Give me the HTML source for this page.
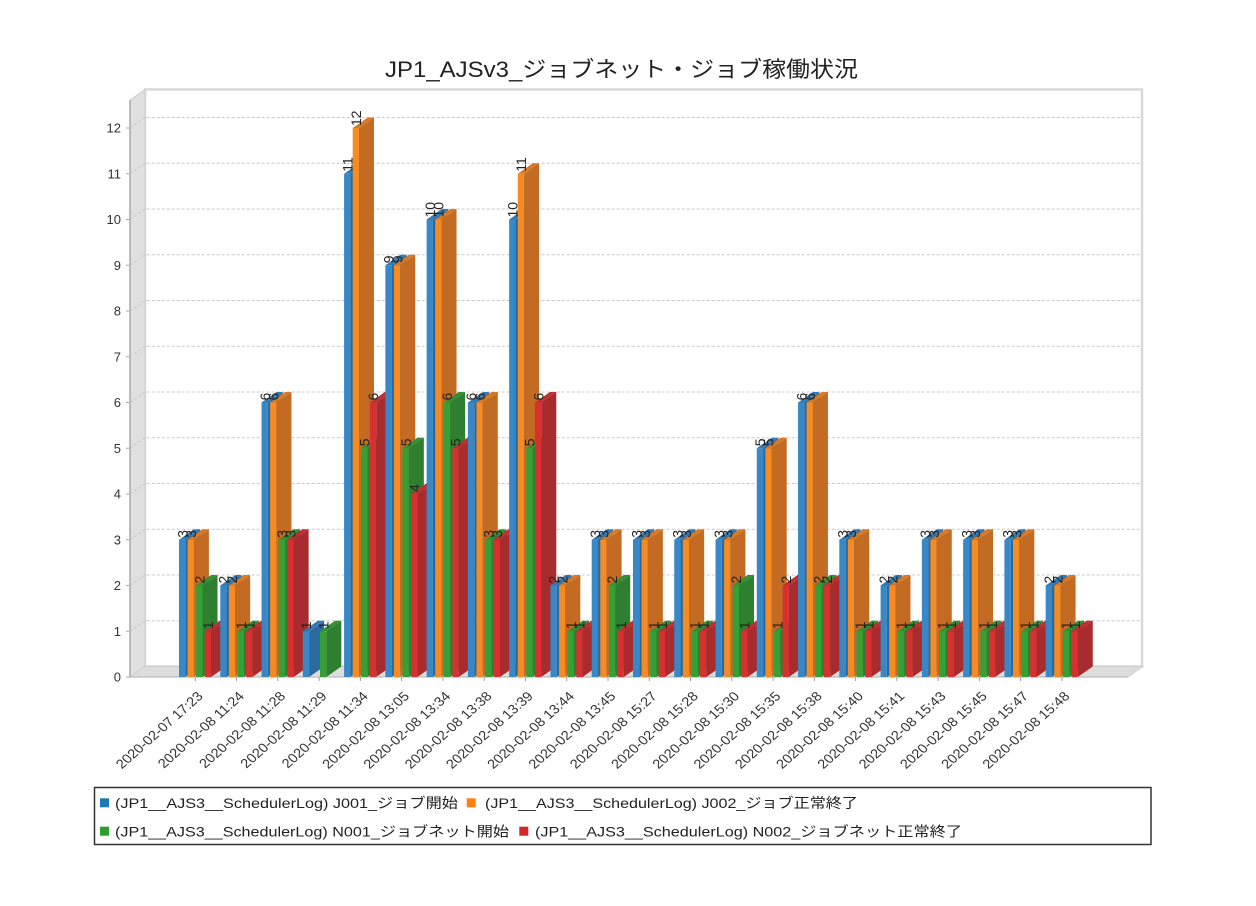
<!DOCTYPE html>
<html><head><meta charset="utf-8"><style>
html,body{margin:0;padding:0;background:#fff;}
svg{display:block;}
text{font-family:"Liberation Sans","Noto Sans CJK JP",sans-serif;}
.s0 .f{fill:#3887c6}.s0 .sd{fill:#2b6a9e}.s0 .tp{fill:#3379b3}
.s1 .f{fill:#f78b22}.s1 .sd{fill:#c36b22}.s1 .tp{fill:#d77a28}
.s2 .f{fill:#35a035}.s2 .sd{fill:#2e7f30}.s2 .tp{fill:#339035}
.s3 .f{fill:#d9302f}.s3 .sd{fill:#a82b2e}.s3 .tp{fill:#bf2e30}
.v{font-size:14px;fill:#222}
.xl{font-size:13px;fill:#333}
.yl{font-size:13px;fill:#333}
.g{stroke:#c8c8c8;stroke-width:1;stroke-dasharray:3 2;fill:none}
</style></head><body>
<svg width="1256" height="906" viewBox="0 0 1256 906" xmlns="http://www.w3.org/2000/svg">
<rect width="1256" height="906" fill="#fff"/>
<text x="385" y="77" font-size="22" fill="#222" textLength="473" lengthAdjust="spacingAndGlyphs">JP1_AJSv3_ジョブネット・ジョブ稼働状況</text>

<!-- walls -->
<rect x="145" y="89.5" width="997" height="577" fill="#fff" stroke="#d9d9d9" stroke-width="2.5"/>
<polygon points="130,100 145,89.5 145,666.5 130,677" fill="#e0e0e0" stroke="#cfcfcf" stroke-width="1"/>
<polygon points="130,677 145,666.5 1143,666.5 1128,677" fill="#dddddd" stroke="#cfcfcf" stroke-width="1"/>
<line x1="130" y1="100" x2="130" y2="677" stroke="#a8a8a8" stroke-width="1.5"/>
<line x1="130" y1="677" x2="1128" y2="677" stroke="#bdbdbd" stroke-width="1.2"/>

<!-- gridlines -->
<path class="g" d="M130 631.25L145 620.75H1141"/>
<path class="g" d="M130 585.5L145 575H1141"/>
<path class="g" d="M130 539.75L145 529.25H1141"/>
<path class="g" d="M130 494L145 483.5H1141"/>
<path class="g" d="M130 448.25L145 437.75H1141"/>
<path class="g" d="M130 402.5L145 392H1141"/>
<path class="g" d="M130 356.75L145 346.25H1141"/>
<path class="g" d="M130 311L145 300.5H1141"/>
<path class="g" d="M130 265.25L145 254.75H1141"/>
<path class="g" d="M130 219.5L145 209H1141"/>
<path class="g" d="M130 173.75L145 163.25H1141"/>
<path class="g" d="M130 128L145 117.5H1141"/>

<!-- y labels -->
<g class="yl" text-anchor="end">
<text x="121" y="681.5">0</text>
<text x="121" y="635.75">1</text>
<text x="121" y="590">2</text>
<text x="121" y="544.25">3</text>
<text x="121" y="498.5">4</text>
<text x="121" y="452.75">5</text>
<text x="121" y="407">6</text>
<text x="121" y="361.25">7</text>
<text x="121" y="315.5">8</text>
<text x="121" y="269.75">9</text>
<text x="121" y="224">10</text>
<text x="121" y="178.25">11</text>
<text x="121" y="132.5">12</text>
</g>
<g stroke="#aaa" stroke-width="1">
<path d="M126 677H130M126 631.25H130M126 585.5H130M126 539.75H130M126 494H130M126 448.25H130M126 402.5H130M126 356.75H130M126 311H130M126 265.25H130M126 219.5H130M126 173.75H130M126 128H130"/>
</g>

<!-- bars -->
<g transform="translate(179,0)">
<g class="s0" transform="translate(0,539.75)"><rect class="f" width="6.3" height="137.25"/><path class="sd" d="M6.3 137.25V0l15-10.5V126.75z"/><path class="tp" d="M0 0l15-10.5h6.3l-15 10.5z"/><text class="v" transform="translate(8.3,-2)rotate(-90)">3</text></g>
<g class="s1" transform="translate(8.6,539.75)"><rect class="f" width="6.3" height="137.25"/><path class="sd" d="M6.3 137.25V0l15-10.5V126.75z"/><path class="tp" d="M0 0l15-10.5h6.3l-15 10.5z"/><text class="v" transform="translate(8.3,-2)rotate(-90)">3</text></g>
<g class="s2" transform="translate(17.2,585.5)"><rect class="f" width="6.3" height="91.5"/><path class="sd" d="M6.3 91.5V0l15-10.5V81z"/><path class="tp" d="M0 0l15-10.5h6.3l-15 10.5z"/><text class="v" transform="translate(8.3,-2)rotate(-90)">2</text></g>
<g class="s3" transform="translate(25.8,631.25)"><rect class="f" width="6.3" height="45.75"/><path class="sd" d="M6.3 45.75V0l15-10.5V35.25z"/><path class="tp" d="M0 0l15-10.5h6.3l-15 10.5z"/><text class="v" transform="translate(8.3,-2)rotate(-90)">1</text></g>
</g>
<g transform="translate(220.27,0)">
<g class="s0" transform="translate(0,585.5)"><rect class="f" width="6.3" height="91.5"/><path class="sd" d="M6.3 91.5V0l15-10.5V81z"/><path class="tp" d="M0 0l15-10.5h6.3l-15 10.5z"/><text class="v" transform="translate(8.3,-2)rotate(-90)">2</text></g>
<g class="s1" transform="translate(8.6,585.5)"><rect class="f" width="6.3" height="91.5"/><path class="sd" d="M6.3 91.5V0l15-10.5V81z"/><path class="tp" d="M0 0l15-10.5h6.3l-15 10.5z"/><text class="v" transform="translate(8.3,-2)rotate(-90)">2</text></g>
<g class="s2" transform="translate(17.2,631.25)"><rect class="f" width="6.3" height="45.75"/><path class="sd" d="M6.3 45.75V0l15-10.5V35.25z"/><path class="tp" d="M0 0l15-10.5h6.3l-15 10.5z"/><text class="v" transform="translate(8.3,-2)rotate(-90)">1</text></g>
<g class="s3" transform="translate(25.8,631.25)"><rect class="f" width="6.3" height="45.75"/><path class="sd" d="M6.3 45.75V0l15-10.5V35.25z"/><path class="tp" d="M0 0l15-10.5h6.3l-15 10.5z"/><text class="v" transform="translate(8.3,-2)rotate(-90)">1</text></g>
</g>
<g transform="translate(261.54,0)">
<g class="s0" transform="translate(0,402.5)"><rect class="f" width="6.3" height="274.5"/><path class="sd" d="M6.3 274.5V0l15-10.5V264z"/><path class="tp" d="M0 0l15-10.5h6.3l-15 10.5z"/><text class="v" transform="translate(8.3,-2)rotate(-90)">6</text></g>
<g class="s1" transform="translate(8.6,402.5)"><rect class="f" width="6.3" height="274.5"/><path class="sd" d="M6.3 274.5V0l15-10.5V264z"/><path class="tp" d="M0 0l15-10.5h6.3l-15 10.5z"/><text class="v" transform="translate(8.3,-2)rotate(-90)">6</text></g>
<g class="s2" transform="translate(17.2,539.75)"><rect class="f" width="6.3" height="137.25"/><path class="sd" d="M6.3 137.25V0l15-10.5V126.75z"/><path class="tp" d="M0 0l15-10.5h6.3l-15 10.5z"/><text class="v" transform="translate(8.3,-2)rotate(-90)">3</text></g>
<g class="s3" transform="translate(25.8,539.75)"><rect class="f" width="6.3" height="137.25"/><path class="sd" d="M6.3 137.25V0l15-10.5V126.75z"/><path class="tp" d="M0 0l15-10.5h6.3l-15 10.5z"/><text class="v" transform="translate(8.3,-2)rotate(-90)">3</text></g>
</g>
<g transform="translate(302.81,0)">
<g class="s0" transform="translate(0,631.25)"><rect class="f" width="6.3" height="45.75"/><path class="sd" d="M6.3 45.75V0l15-10.5V35.25z"/><path class="tp" d="M0 0l15-10.5h6.3l-15 10.5z"/><text class="v" transform="translate(8.3,-2)rotate(-90)">1</text></g>
<g class="s2" transform="translate(17.2,631.25)"><rect class="f" width="6.3" height="45.75"/><path class="sd" d="M6.3 45.75V0l15-10.5V35.25z"/><path class="tp" d="M0 0l15-10.5h6.3l-15 10.5z"/><text class="v" transform="translate(8.3,-2)rotate(-90)">1</text></g>
</g>
<g transform="translate(344.08,0)">
<g class="s0" transform="translate(0,173.75)"><rect class="f" width="6.3" height="503.25"/><path class="sd" d="M6.3 503.25V0l15-10.5V492.75z"/><path class="tp" d="M0 0l15-10.5h6.3l-15 10.5z"/><text class="v" transform="translate(8.3,-2)rotate(-90)">11</text></g>
<g class="s1" transform="translate(8.6,128)"><rect class="f" width="6.3" height="549"/><path class="sd" d="M6.3 549V0l15-10.5V538.5z"/><path class="tp" d="M0 0l15-10.5h6.3l-15 10.5z"/><text class="v" transform="translate(8.3,-2)rotate(-90)">12</text></g>
<g class="s2" transform="translate(17.2,448.25)"><rect class="f" width="6.3" height="228.75"/><path class="sd" d="M6.3 228.75V0l15-10.5V218.25z"/><path class="tp" d="M0 0l15-10.5h6.3l-15 10.5z"/><text class="v" transform="translate(8.3,-2)rotate(-90)">5</text></g>
<g class="s3" transform="translate(25.8,402.5)"><rect class="f" width="6.3" height="274.5"/><path class="sd" d="M6.3 274.5V0l15-10.5V264z"/><path class="tp" d="M0 0l15-10.5h6.3l-15 10.5z"/><text class="v" transform="translate(8.3,-2)rotate(-90)">6</text></g>
</g>
<g transform="translate(385.35,0)">
<g class="s0" transform="translate(0,265.25)"><rect class="f" width="6.3" height="411.75"/><path class="sd" d="M6.3 411.75V0l15-10.5V401.25z"/><path class="tp" d="M0 0l15-10.5h6.3l-15 10.5z"/><text class="v" transform="translate(8.3,-2)rotate(-90)">9</text></g>
<g class="s1" transform="translate(8.6,265.25)"><rect class="f" width="6.3" height="411.75"/><path class="sd" d="M6.3 411.75V0l15-10.5V401.25z"/><path class="tp" d="M0 0l15-10.5h6.3l-15 10.5z"/><text class="v" transform="translate(8.3,-2)rotate(-90)">9</text></g>
<g class="s2" transform="translate(17.2,448.25)"><rect class="f" width="6.3" height="228.75"/><path class="sd" d="M6.3 228.75V0l15-10.5V218.25z"/><path class="tp" d="M0 0l15-10.5h6.3l-15 10.5z"/><text class="v" transform="translate(8.3,-2)rotate(-90)">5</text></g>
<g class="s3" transform="translate(25.8,494)"><rect class="f" width="6.3" height="183"/><path class="sd" d="M6.3 183V0l15-10.5V172.5z"/><path class="tp" d="M0 0l15-10.5h6.3l-15 10.5z"/><text class="v" transform="translate(8.3,-2)rotate(-90)">4</text></g>
</g>
<g transform="translate(426.62,0)">
<g class="s0" transform="translate(0,219.5)"><rect class="f" width="6.3" height="457.5"/><path class="sd" d="M6.3 457.5V0l15-10.5V447z"/><path class="tp" d="M0 0l15-10.5h6.3l-15 10.5z"/><text class="v" transform="translate(8.3,-2)rotate(-90)">10</text></g>
<g class="s1" transform="translate(8.6,219.5)"><rect class="f" width="6.3" height="457.5"/><path class="sd" d="M6.3 457.5V0l15-10.5V447z"/><path class="tp" d="M0 0l15-10.5h6.3l-15 10.5z"/><text class="v" transform="translate(8.3,-2)rotate(-90)">10</text></g>
<g class="s2" transform="translate(17.2,402.5)"><rect class="f" width="6.3" height="274.5"/><path class="sd" d="M6.3 274.5V0l15-10.5V264z"/><path class="tp" d="M0 0l15-10.5h6.3l-15 10.5z"/><text class="v" transform="translate(8.3,-2)rotate(-90)">6</text></g>
<g class="s3" transform="translate(25.8,448.25)"><rect class="f" width="6.3" height="228.75"/><path class="sd" d="M6.3 228.75V0l15-10.5V218.25z"/><path class="tp" d="M0 0l15-10.5h6.3l-15 10.5z"/><text class="v" transform="translate(8.3,-2)rotate(-90)">5</text></g>
</g>
<g transform="translate(467.89,0)">
<g class="s0" transform="translate(0,402.5)"><rect class="f" width="6.3" height="274.5"/><path class="sd" d="M6.3 274.5V0l15-10.5V264z"/><path class="tp" d="M0 0l15-10.5h6.3l-15 10.5z"/><text class="v" transform="translate(8.3,-2)rotate(-90)">6</text></g>
<g class="s1" transform="translate(8.6,402.5)"><rect class="f" width="6.3" height="274.5"/><path class="sd" d="M6.3 274.5V0l15-10.5V264z"/><path class="tp" d="M0 0l15-10.5h6.3l-15 10.5z"/><text class="v" transform="translate(8.3,-2)rotate(-90)">6</text></g>
<g class="s2" transform="translate(17.2,539.75)"><rect class="f" width="6.3" height="137.25"/><path class="sd" d="M6.3 137.25V0l15-10.5V126.75z"/><path class="tp" d="M0 0l15-10.5h6.3l-15 10.5z"/><text class="v" transform="translate(8.3,-2)rotate(-90)">3</text></g>
<g class="s3" transform="translate(25.8,539.75)"><rect class="f" width="6.3" height="137.25"/><path class="sd" d="M6.3 137.25V0l15-10.5V126.75z"/><path class="tp" d="M0 0l15-10.5h6.3l-15 10.5z"/><text class="v" transform="translate(8.3,-2)rotate(-90)">3</text></g>
</g>
<g transform="translate(509.16,0)">
<g class="s0" transform="translate(0,219.5)"><rect class="f" width="6.3" height="457.5"/><path class="sd" d="M6.3 457.5V0l15-10.5V447z"/><path class="tp" d="M0 0l15-10.5h6.3l-15 10.5z"/><text class="v" transform="translate(8.3,-2)rotate(-90)">10</text></g>
<g class="s1" transform="translate(8.6,173.75)"><rect class="f" width="6.3" height="503.25"/><path class="sd" d="M6.3 503.25V0l15-10.5V492.75z"/><path class="tp" d="M0 0l15-10.5h6.3l-15 10.5z"/><text class="v" transform="translate(8.3,-2)rotate(-90)">11</text></g>
<g class="s2" transform="translate(17.2,448.25)"><rect class="f" width="6.3" height="228.75"/><path class="sd" d="M6.3 228.75V0l15-10.5V218.25z"/><path class="tp" d="M0 0l15-10.5h6.3l-15 10.5z"/><text class="v" transform="translate(8.3,-2)rotate(-90)">5</text></g>
<g class="s3" transform="translate(25.8,402.5)"><rect class="f" width="6.3" height="274.5"/><path class="sd" d="M6.3 274.5V0l15-10.5V264z"/><path class="tp" d="M0 0l15-10.5h6.3l-15 10.5z"/><text class="v" transform="translate(8.3,-2)rotate(-90)">6</text></g>
</g>
<g transform="translate(550.43,0)">
<g class="s0" transform="translate(0,585.5)"><rect class="f" width="6.3" height="91.5"/><path class="sd" d="M6.3 91.5V0l15-10.5V81z"/><path class="tp" d="M0 0l15-10.5h6.3l-15 10.5z"/><text class="v" transform="translate(8.3,-2)rotate(-90)">2</text></g>
<g class="s1" transform="translate(8.6,585.5)"><rect class="f" width="6.3" height="91.5"/><path class="sd" d="M6.3 91.5V0l15-10.5V81z"/><path class="tp" d="M0 0l15-10.5h6.3l-15 10.5z"/><text class="v" transform="translate(8.3,-2)rotate(-90)">2</text></g>
<g class="s2" transform="translate(17.2,631.25)"><rect class="f" width="6.3" height="45.75"/><path class="sd" d="M6.3 45.75V0l15-10.5V35.25z"/><path class="tp" d="M0 0l15-10.5h6.3l-15 10.5z"/><text class="v" transform="translate(8.3,-2)rotate(-90)">1</text></g>
<g class="s3" transform="translate(25.8,631.25)"><rect class="f" width="6.3" height="45.75"/><path class="sd" d="M6.3 45.75V0l15-10.5V35.25z"/><path class="tp" d="M0 0l15-10.5h6.3l-15 10.5z"/><text class="v" transform="translate(8.3,-2)rotate(-90)">1</text></g>
</g>
<g transform="translate(591.7,0)">
<g class="s0" transform="translate(0,539.75)"><rect class="f" width="6.3" height="137.25"/><path class="sd" d="M6.3 137.25V0l15-10.5V126.75z"/><path class="tp" d="M0 0l15-10.5h6.3l-15 10.5z"/><text class="v" transform="translate(8.3,-2)rotate(-90)">3</text></g>
<g class="s1" transform="translate(8.6,539.75)"><rect class="f" width="6.3" height="137.25"/><path class="sd" d="M6.3 137.25V0l15-10.5V126.75z"/><path class="tp" d="M0 0l15-10.5h6.3l-15 10.5z"/><text class="v" transform="translate(8.3,-2)rotate(-90)">3</text></g>
<g class="s2" transform="translate(17.2,585.5)"><rect class="f" width="6.3" height="91.5"/><path class="sd" d="M6.3 91.5V0l15-10.5V81z"/><path class="tp" d="M0 0l15-10.5h6.3l-15 10.5z"/><text class="v" transform="translate(8.3,-2)rotate(-90)">2</text></g>
<g class="s3" transform="translate(25.8,631.25)"><rect class="f" width="6.3" height="45.75"/><path class="sd" d="M6.3 45.75V0l15-10.5V35.25z"/><path class="tp" d="M0 0l15-10.5h6.3l-15 10.5z"/><text class="v" transform="translate(8.3,-2)rotate(-90)">1</text></g>
</g>
<g transform="translate(632.97,0)">
<g class="s0" transform="translate(0,539.75)"><rect class="f" width="6.3" height="137.25"/><path class="sd" d="M6.3 137.25V0l15-10.5V126.75z"/><path class="tp" d="M0 0l15-10.5h6.3l-15 10.5z"/><text class="v" transform="translate(8.3,-2)rotate(-90)">3</text></g>
<g class="s1" transform="translate(8.6,539.75)"><rect class="f" width="6.3" height="137.25"/><path class="sd" d="M6.3 137.25V0l15-10.5V126.75z"/><path class="tp" d="M0 0l15-10.5h6.3l-15 10.5z"/><text class="v" transform="translate(8.3,-2)rotate(-90)">3</text></g>
<g class="s2" transform="translate(17.2,631.25)"><rect class="f" width="6.3" height="45.75"/><path class="sd" d="M6.3 45.75V0l15-10.5V35.25z"/><path class="tp" d="M0 0l15-10.5h6.3l-15 10.5z"/><text class="v" transform="translate(8.3,-2)rotate(-90)">1</text></g>
<g class="s3" transform="translate(25.8,631.25)"><rect class="f" width="6.3" height="45.75"/><path class="sd" d="M6.3 45.75V0l15-10.5V35.25z"/><path class="tp" d="M0 0l15-10.5h6.3l-15 10.5z"/><text class="v" transform="translate(8.3,-2)rotate(-90)">1</text></g>
</g>
<g transform="translate(674.24,0)">
<g class="s0" transform="translate(0,539.75)"><rect class="f" width="6.3" height="137.25"/><path class="sd" d="M6.3 137.25V0l15-10.5V126.75z"/><path class="tp" d="M0 0l15-10.5h6.3l-15 10.5z"/><text class="v" transform="translate(8.3,-2)rotate(-90)">3</text></g>
<g class="s1" transform="translate(8.6,539.75)"><rect class="f" width="6.3" height="137.25"/><path class="sd" d="M6.3 137.25V0l15-10.5V126.75z"/><path class="tp" d="M0 0l15-10.5h6.3l-15 10.5z"/><text class="v" transform="translate(8.3,-2)rotate(-90)">3</text></g>
<g class="s2" transform="translate(17.2,631.25)"><rect class="f" width="6.3" height="45.75"/><path class="sd" d="M6.3 45.75V0l15-10.5V35.25z"/><path class="tp" d="M0 0l15-10.5h6.3l-15 10.5z"/><text class="v" transform="translate(8.3,-2)rotate(-90)">1</text></g>
<g class="s3" transform="translate(25.8,631.25)"><rect class="f" width="6.3" height="45.75"/><path class="sd" d="M6.3 45.75V0l15-10.5V35.25z"/><path class="tp" d="M0 0l15-10.5h6.3l-15 10.5z"/><text class="v" transform="translate(8.3,-2)rotate(-90)">1</text></g>
</g>
<g transform="translate(715.51,0)">
<g class="s0" transform="translate(0,539.75)"><rect class="f" width="6.3" height="137.25"/><path class="sd" d="M6.3 137.25V0l15-10.5V126.75z"/><path class="tp" d="M0 0l15-10.5h6.3l-15 10.5z"/><text class="v" transform="translate(8.3,-2)rotate(-90)">3</text></g>
<g class="s1" transform="translate(8.6,539.75)"><rect class="f" width="6.3" height="137.25"/><path class="sd" d="M6.3 137.25V0l15-10.5V126.75z"/><path class="tp" d="M0 0l15-10.5h6.3l-15 10.5z"/><text class="v" transform="translate(8.3,-2)rotate(-90)">3</text></g>
<g class="s2" transform="translate(17.2,585.5)"><rect class="f" width="6.3" height="91.5"/><path class="sd" d="M6.3 91.5V0l15-10.5V81z"/><path class="tp" d="M0 0l15-10.5h6.3l-15 10.5z"/><text class="v" transform="translate(8.3,-2)rotate(-90)">2</text></g>
<g class="s3" transform="translate(25.8,631.25)"><rect class="f" width="6.3" height="45.75"/><path class="sd" d="M6.3 45.75V0l15-10.5V35.25z"/><path class="tp" d="M0 0l15-10.5h6.3l-15 10.5z"/><text class="v" transform="translate(8.3,-2)rotate(-90)">1</text></g>
</g>
<g transform="translate(756.78,0)">
<g class="s0" transform="translate(0,448.25)"><rect class="f" width="6.3" height="228.75"/><path class="sd" d="M6.3 228.75V0l15-10.5V218.25z"/><path class="tp" d="M0 0l15-10.5h6.3l-15 10.5z"/><text class="v" transform="translate(8.3,-2)rotate(-90)">5</text></g>
<g class="s1" transform="translate(8.6,448.25)"><rect class="f" width="6.3" height="228.75"/><path class="sd" d="M6.3 228.75V0l15-10.5V218.25z"/><path class="tp" d="M0 0l15-10.5h6.3l-15 10.5z"/><text class="v" transform="translate(8.3,-2)rotate(-90)">5</text></g>
<g class="s2" transform="translate(17.2,631.25)"><rect class="f" width="6.3" height="45.75"/><path class="sd" d="M6.3 45.75V0l15-10.5V35.25z"/><path class="tp" d="M0 0l15-10.5h6.3l-15 10.5z"/><text class="v" transform="translate(8.3,-2)rotate(-90)">1</text></g>
<g class="s3" transform="translate(25.8,585.5)"><rect class="f" width="6.3" height="91.5"/><path class="sd" d="M6.3 91.5V0l15-10.5V81z"/><path class="tp" d="M0 0l15-10.5h6.3l-15 10.5z"/><text class="v" transform="translate(8.3,-2)rotate(-90)">2</text></g>
</g>
<g transform="translate(798.05,0)">
<g class="s0" transform="translate(0,402.5)"><rect class="f" width="6.3" height="274.5"/><path class="sd" d="M6.3 274.5V0l15-10.5V264z"/><path class="tp" d="M0 0l15-10.5h6.3l-15 10.5z"/><text class="v" transform="translate(8.3,-2)rotate(-90)">6</text></g>
<g class="s1" transform="translate(8.6,402.5)"><rect class="f" width="6.3" height="274.5"/><path class="sd" d="M6.3 274.5V0l15-10.5V264z"/><path class="tp" d="M0 0l15-10.5h6.3l-15 10.5z"/><text class="v" transform="translate(8.3,-2)rotate(-90)">6</text></g>
<g class="s2" transform="translate(17.2,585.5)"><rect class="f" width="6.3" height="91.5"/><path class="sd" d="M6.3 91.5V0l15-10.5V81z"/><path class="tp" d="M0 0l15-10.5h6.3l-15 10.5z"/><text class="v" transform="translate(8.3,-2)rotate(-90)">2</text></g>
<g class="s3" transform="translate(25.8,585.5)"><rect class="f" width="6.3" height="91.5"/><path class="sd" d="M6.3 91.5V0l15-10.5V81z"/><path class="tp" d="M0 0l15-10.5h6.3l-15 10.5z"/><text class="v" transform="translate(8.3,-2)rotate(-90)">2</text></g>
</g>
<g transform="translate(839.32,0)">
<g class="s0" transform="translate(0,539.75)"><rect class="f" width="6.3" height="137.25"/><path class="sd" d="M6.3 137.25V0l15-10.5V126.75z"/><path class="tp" d="M0 0l15-10.5h6.3l-15 10.5z"/><text class="v" transform="translate(8.3,-2)rotate(-90)">3</text></g>
<g class="s1" transform="translate(8.6,539.75)"><rect class="f" width="6.3" height="137.25"/><path class="sd" d="M6.3 137.25V0l15-10.5V126.75z"/><path class="tp" d="M0 0l15-10.5h6.3l-15 10.5z"/><text class="v" transform="translate(8.3,-2)rotate(-90)">3</text></g>
<g class="s2" transform="translate(17.2,631.25)"><rect class="f" width="6.3" height="45.75"/><path class="sd" d="M6.3 45.75V0l15-10.5V35.25z"/><path class="tp" d="M0 0l15-10.5h6.3l-15 10.5z"/><text class="v" transform="translate(8.3,-2)rotate(-90)">1</text></g>
<g class="s3" transform="translate(25.8,631.25)"><rect class="f" width="6.3" height="45.75"/><path class="sd" d="M6.3 45.75V0l15-10.5V35.25z"/><path class="tp" d="M0 0l15-10.5h6.3l-15 10.5z"/><text class="v" transform="translate(8.3,-2)rotate(-90)">1</text></g>
</g>
<g transform="translate(880.59,0)">
<g class="s0" transform="translate(0,585.5)"><rect class="f" width="6.3" height="91.5"/><path class="sd" d="M6.3 91.5V0l15-10.5V81z"/><path class="tp" d="M0 0l15-10.5h6.3l-15 10.5z"/><text class="v" transform="translate(8.3,-2)rotate(-90)">2</text></g>
<g class="s1" transform="translate(8.6,585.5)"><rect class="f" width="6.3" height="91.5"/><path class="sd" d="M6.3 91.5V0l15-10.5V81z"/><path class="tp" d="M0 0l15-10.5h6.3l-15 10.5z"/><text class="v" transform="translate(8.3,-2)rotate(-90)">2</text></g>
<g class="s2" transform="translate(17.2,631.25)"><rect class="f" width="6.3" height="45.75"/><path class="sd" d="M6.3 45.75V0l15-10.5V35.25z"/><path class="tp" d="M0 0l15-10.5h6.3l-15 10.5z"/><text class="v" transform="translate(8.3,-2)rotate(-90)">1</text></g>
<g class="s3" transform="translate(25.8,631.25)"><rect class="f" width="6.3" height="45.75"/><path class="sd" d="M6.3 45.75V0l15-10.5V35.25z"/><path class="tp" d="M0 0l15-10.5h6.3l-15 10.5z"/><text class="v" transform="translate(8.3,-2)rotate(-90)">1</text></g>
</g>
<g transform="translate(921.86,0)">
<g class="s0" transform="translate(0,539.75)"><rect class="f" width="6.3" height="137.25"/><path class="sd" d="M6.3 137.25V0l15-10.5V126.75z"/><path class="tp" d="M0 0l15-10.5h6.3l-15 10.5z"/><text class="v" transform="translate(8.3,-2)rotate(-90)">3</text></g>
<g class="s1" transform="translate(8.6,539.75)"><rect class="f" width="6.3" height="137.25"/><path class="sd" d="M6.3 137.25V0l15-10.5V126.75z"/><path class="tp" d="M0 0l15-10.5h6.3l-15 10.5z"/><text class="v" transform="translate(8.3,-2)rotate(-90)">3</text></g>
<g class="s2" transform="translate(17.2,631.25)"><rect class="f" width="6.3" height="45.75"/><path class="sd" d="M6.3 45.75V0l15-10.5V35.25z"/><path class="tp" d="M0 0l15-10.5h6.3l-15 10.5z"/><text class="v" transform="translate(8.3,-2)rotate(-90)">1</text></g>
<g class="s3" transform="translate(25.8,631.25)"><rect class="f" width="6.3" height="45.75"/><path class="sd" d="M6.3 45.75V0l15-10.5V35.25z"/><path class="tp" d="M0 0l15-10.5h6.3l-15 10.5z"/><text class="v" transform="translate(8.3,-2)rotate(-90)">1</text></g>
</g>
<g transform="translate(963.13,0)">
<g class="s0" transform="translate(0,539.75)"><rect class="f" width="6.3" height="137.25"/><path class="sd" d="M6.3 137.25V0l15-10.5V126.75z"/><path class="tp" d="M0 0l15-10.5h6.3l-15 10.5z"/><text class="v" transform="translate(8.3,-2)rotate(-90)">3</text></g>
<g class="s1" transform="translate(8.6,539.75)"><rect class="f" width="6.3" height="137.25"/><path class="sd" d="M6.3 137.25V0l15-10.5V126.75z"/><path class="tp" d="M0 0l15-10.5h6.3l-15 10.5z"/><text class="v" transform="translate(8.3,-2)rotate(-90)">3</text></g>
<g class="s2" transform="translate(17.2,631.25)"><rect class="f" width="6.3" height="45.75"/><path class="sd" d="M6.3 45.75V0l15-10.5V35.25z"/><path class="tp" d="M0 0l15-10.5h6.3l-15 10.5z"/><text class="v" transform="translate(8.3,-2)rotate(-90)">1</text></g>
<g class="s3" transform="translate(25.8,631.25)"><rect class="f" width="6.3" height="45.75"/><path class="sd" d="M6.3 45.75V0l15-10.5V35.25z"/><path class="tp" d="M0 0l15-10.5h6.3l-15 10.5z"/><text class="v" transform="translate(8.3,-2)rotate(-90)">1</text></g>
</g>
<g transform="translate(1004.4,0)">
<g class="s0" transform="translate(0,539.75)"><rect class="f" width="6.3" height="137.25"/><path class="sd" d="M6.3 137.25V0l15-10.5V126.75z"/><path class="tp" d="M0 0l15-10.5h6.3l-15 10.5z"/><text class="v" transform="translate(8.3,-2)rotate(-90)">3</text></g>
<g class="s1" transform="translate(8.6,539.75)"><rect class="f" width="6.3" height="137.25"/><path class="sd" d="M6.3 137.25V0l15-10.5V126.75z"/><path class="tp" d="M0 0l15-10.5h6.3l-15 10.5z"/><text class="v" transform="translate(8.3,-2)rotate(-90)">3</text></g>
<g class="s2" transform="translate(17.2,631.25)"><rect class="f" width="6.3" height="45.75"/><path class="sd" d="M6.3 45.75V0l15-10.5V35.25z"/><path class="tp" d="M0 0l15-10.5h6.3l-15 10.5z"/><text class="v" transform="translate(8.3,-2)rotate(-90)">1</text></g>
<g class="s3" transform="translate(25.8,631.25)"><rect class="f" width="6.3" height="45.75"/><path class="sd" d="M6.3 45.75V0l15-10.5V35.25z"/><path class="tp" d="M0 0l15-10.5h6.3l-15 10.5z"/><text class="v" transform="translate(8.3,-2)rotate(-90)">1</text></g>
</g>
<g transform="translate(1045.67,0)">
<g class="s0" transform="translate(0,585.5)"><rect class="f" width="6.3" height="91.5"/><path class="sd" d="M6.3 91.5V0l15-10.5V81z"/><path class="tp" d="M0 0l15-10.5h6.3l-15 10.5z"/><text class="v" transform="translate(8.3,-2)rotate(-90)">2</text></g>
<g class="s1" transform="translate(8.6,585.5)"><rect class="f" width="6.3" height="91.5"/><path class="sd" d="M6.3 91.5V0l15-10.5V81z"/><path class="tp" d="M0 0l15-10.5h6.3l-15 10.5z"/><text class="v" transform="translate(8.3,-2)rotate(-90)">2</text></g>
<g class="s2" transform="translate(17.2,631.25)"><rect class="f" width="6.3" height="45.75"/><path class="sd" d="M6.3 45.75V0l15-10.5V35.25z"/><path class="tp" d="M0 0l15-10.5h6.3l-15 10.5z"/><text class="v" transform="translate(8.3,-2)rotate(-90)">1</text></g>
<g class="s3" transform="translate(25.8,631.25)"><rect class="f" width="6.3" height="45.75"/><path class="sd" d="M6.3 45.75V0l15-10.5V35.25z"/><path class="tp" d="M0 0l15-10.5h6.3l-15 10.5z"/><text class="v" transform="translate(8.3,-2)rotate(-90)">1</text></g>
</g>

<!-- x ticks -->
<path stroke="#999" stroke-width="1" d="M195.3 677V681M236.57 677V681M277.84 677V681M319.11 677V681M360.38 677V681M401.65 677V681M442.92 677V681M484.19 677V681M525.46 677V681M566.73 677V681M608 677V681M649.27 677V681M690.54 677V681M731.81 677V681M773.08 677V681M814.35 677V681M855.62 677V681M896.89 677V681M938.16 677V681M979.43 677V681M1020.7 677V681M1061.97 677V681"/>

<!-- x labels -->
<g class="xl" text-anchor="end">
<text transform="translate(203.8,697) scale(1.13,1) rotate(-45)">2020-02-07 17:23</text>
<text transform="translate(245.07,697) scale(1.13,1) rotate(-45)">2020-02-08 11:24</text>
<text transform="translate(286.34,697) scale(1.13,1) rotate(-45)">2020-02-08 11:28</text>
<text transform="translate(327.61,697) scale(1.13,1) rotate(-45)">2020-02-08 11:29</text>
<text transform="translate(368.88,697) scale(1.13,1) rotate(-45)">2020-02-08 11:34</text>
<text transform="translate(410.15,697) scale(1.13,1) rotate(-45)">2020-02-08 13:05</text>
<text transform="translate(451.42,697) scale(1.13,1) rotate(-45)">2020-02-08 13:34</text>
<text transform="translate(492.69,697) scale(1.13,1) rotate(-45)">2020-02-08 13:38</text>
<text transform="translate(533.96,697) scale(1.13,1) rotate(-45)">2020-02-08 13:39</text>
<text transform="translate(575.23,697) scale(1.13,1) rotate(-45)">2020-02-08 13:44</text>
<text transform="translate(616.5,697) scale(1.13,1) rotate(-45)">2020-02-08 13:45</text>
<text transform="translate(657.77,697) scale(1.13,1) rotate(-45)">2020-02-08 15:27</text>
<text transform="translate(699.04,697) scale(1.13,1) rotate(-45)">2020-02-08 15:28</text>
<text transform="translate(740.31,697) scale(1.13,1) rotate(-45)">2020-02-08 15:30</text>
<text transform="translate(781.58,697) scale(1.13,1) rotate(-45)">2020-02-08 15:35</text>
<text transform="translate(822.85,697) scale(1.13,1) rotate(-45)">2020-02-08 15:38</text>
<text transform="translate(864.12,697) scale(1.13,1) rotate(-45)">2020-02-08 15:40</text>
<text transform="translate(905.39,697) scale(1.13,1) rotate(-45)">2020-02-08 15:41</text>
<text transform="translate(946.66,697) scale(1.13,1) rotate(-45)">2020-02-08 15:43</text>
<text transform="translate(987.93,697) scale(1.13,1) rotate(-45)">2020-02-08 15:45</text>
<text transform="translate(1029.2,697) scale(1.13,1) rotate(-45)">2020-02-08 15:47</text>
<text transform="translate(1070.47,697) scale(1.13,1) rotate(-45)">2020-02-08 15:48</text>
</g>

<!-- legend -->
<rect x="94.5" y="787.5" width="1056.5" height="57" fill="#fff" stroke="#333" stroke-width="1.5"/>
<rect x="100" y="798.3" width="9" height="9" fill="#1f77b4"/>
<text x="115" y="808" font-size="14" fill="#222" textLength="343" lengthAdjust="spacingAndGlyphs">(JP1__AJS3__SchedulerLog) J001_ジョブ開始</text>
<rect x="466.7" y="798.3" width="9" height="9" fill="#ff7f0e"/>
<text x="485" y="808" font-size="14" fill="#222" textLength="373" lengthAdjust="spacingAndGlyphs">(JP1__AJS3__SchedulerLog) J002_ジョブ正常終了</text>
<rect x="100" y="826.7" width="9" height="9" fill="#2ca02c"/>
<text x="115" y="836.5" font-size="14" fill="#222" textLength="394" lengthAdjust="spacingAndGlyphs">(JP1__AJS3__SchedulerLog) N001_ジョブネット開始</text>
<rect x="519.3" y="826.7" width="9" height="9" fill="#d62728"/>
<text x="535" y="836.5" font-size="14" fill="#222" textLength="427" lengthAdjust="spacingAndGlyphs">(JP1__AJS3__SchedulerLog) N002_ジョブネット正常終了</text>
</svg>
</body></html>
